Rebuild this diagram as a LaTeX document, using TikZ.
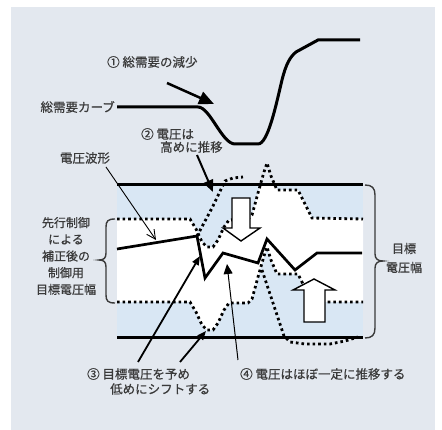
\documentclass[tikz,border=0pt]{standalone}
\usepackage{fontspec}
\setmainfont{Noto Sans CJK JP}[FakeBold=0.6]
\usetikzlibrary{arrows.meta}
\definecolor{bg}{HTML}{E3E8EF}
\definecolor{lblue}{HTML}{D9E7F4}
\definecolor{txt}{HTML}{3A3A3A}
\begin{document}
\begin{tikzpicture}[x=1pt,y=-1pt,
  lbl/.style={font=\fontsize{12.5}{14}\selectfont, text=txt, inner sep=0pt},
  dotline/.style={line width=2.8pt, dash pattern=on 2.6pt off 3.0pt, line cap=butt},
  bandline/.style={line width=3pt},
  bigarrow/.style={fill=white, draw=black, line width=1.4pt, line join=miter},
  bracestyle/.style={line width=1.4pt, draw=txt},
  leader/.style={line width=1.8pt, -{Triangle[length=9pt,width=7pt]}}]
\useasboundingbox (0,0) rectangle (442,430);
\fill[white] (0,0) rectangle (442,430);
\fill[bg] (11,7) rectangle (435,430);

% band background
\fill[lblue] (117,185) rectangle (363,338);
\begin{scope}
\clip (117,185) rectangle (363,338);
\fill[white] (117,219) -- (190,219) -- (196,229) -- (202,242) -- (207,247) -- (213,247) -- (218,240) -- (224,227) -- (229,220) -- (248,219) -- (252,215) -- (258,193) -- (264,172) -- (267,163) -- (271,176) -- (277,190) -- (298,190) -- (312,218) -- (363,219)
  -- (363,302) -- (312,302) -- (298,274) -- (277,274) -- (271,260) -- (267,247) -- (264,256) -- (258,277) -- (252,299) -- (248,303) -- (229,303) -- (224,310) -- (218,323) -- (213,330) -- (207,330) -- (202,325) -- (196,312) -- (190,302) -- (117,302) -- cycle;
\end{scope}

% dotted curves
\draw[dotline] (117,219) -- (190,219) -- (196,229) -- (202,242) -- (207,247) -- (213,247) -- (218,240) -- (224,227) -- (229,220) -- (248,219) -- (252,215) -- (258,193) -- (264,172) -- (267,163) -- (271,176) -- (277,190) -- (298,190) -- (312,218) -- (363,219);
\draw[dotline] (117,302) -- (190,302) -- (196,312) -- (202,325) -- (207,330) -- (213,330) -- (218,323) -- (224,310) -- (229,303) -- (248,303) -- (252,299) -- (258,277) -- (264,256) -- (267,247) -- (271,260) -- (277,274) -- (298,274) -- (312,302) -- (363,302);
\draw[dotline] (197,236) -- (212,208) -- (225,181) -- (233,178) -- (243,177);
\draw[dotline] (262,270) -- (284,336) -- (290,342) -- (305,344) -- (330,344) -- (345,341) -- (358,337);

% band lines
\draw[bandline] (117,185) -- (363,185);
\draw[bandline] (117,338) -- (363,338);

% voltage waveform
\draw[line width=2.7pt, line join=miter] (117,249) -- (197,236) -- (205,278) -- (223,253) -- (258,263) -- (267,239) -- (295,270) -- (317,253) -- (362,253);

% big hollow arrows
\draw[bigarrow] (232,198) -- (250,198) -- (250,228) -- (260,228) -- (241,241) -- (223,228) -- (232,228) -- cycle;
\draw[bigarrow] (304,322) -- (325,322) -- (325,290) -- (335,290) -- (314,279) -- (293,290) -- (304,290) -- cycle;

% demand curve
\draw[line width=3pt] (117,107) -- (198,107) .. controls (210,107) and (222,144) .. (235,144) -- (258,144) .. controls (268,144) and (276,105) .. (282,80) .. controls (286,64) and (290,57) .. (296,52) -- (318,40) -- (360,40);

% texts
\node[lbl, anchor=west] (t1) at (107,62) {① 総需要の減少};
\node[lbl, anchor=east] (tc) at (115,107) {総需要カーブ};
\node[lbl, anchor=west] (t2a) at (141,134) {② 電圧は};
\node[lbl, anchor=west] (t2b) at (160,147) {高めに推移};
\node[lbl] (tw) at (85,158) {電圧波形};
\node[lbl, align=center, font=\fontsize{12}{16.7}\selectfont] (tl) at (66,256) {先行制御\\による\\補正後の\\制御用\\目標電圧幅};
\node[lbl, align=center, font=\fontsize{12}{19}\selectfont] (tr) at (404,258) {目標\\電圧幅};
\node[lbl, anchor=west] (t3a) at (87,374) {③ 目標電圧を予め};
\node[lbl, anchor=west] (t3b) at (110,389) {低めにシフトする};
\node[lbl, anchor=west] (t4) at (240,374) {④ 電圧はほぼ一定に推移する};

% leader arrows
\coordinate (a1s) at (167,83); \coordinate (a1e) at (214,104);
\draw[line width=2.5pt, -{Triangle[length=15pt,width=13pt]}] (a1s) -- (a1e);
\coordinate (a2s) at (197,155); \coordinate (a2e) at (213,192);
\draw[line width=2pt, -{Triangle[length=12pt,width=10pt]}] (a2s) -- (a2e);
\coordinate (aws) at (106,167); \coordinate (awe) at (156,240);
\draw[line width=0.9pt, -{Straight Barb[length=9pt,width=9pt]}] (aws) -- (awe);
\coordinate (a3s) at (138,362); \coordinate (a3e) at (200,256);
\draw[leader] (a3s) -- (a3e);
\coordinate (a3bs) at (180,362); \coordinate (a3be) at (206,331);
\draw[leader] (a3bs) -- (a3be);
\coordinate (a4s) at (238,360); \coordinate (a4e) at (227,264);
\draw[line width=1pt, -{Triangle[length=10pt,width=9pt]}] (a4s) -- (a4e);

% braces
\draw[bracestyle] (115,219) .. controls (108,219) and (106,221) .. (106,227) -- (106,253) .. controls (106,258) and (104,260) .. (99,260) .. controls (104,260) and (106,262) .. (106,267) -- (106,295) .. controls (106,301) and (108,303) .. (115,303);
\draw[bracestyle] (365,185) .. controls (372,185) and (375,188) .. (375,195) -- (375,254) .. controls (375,259) and (378,261) .. (383,261) .. controls (378,261) and (375,263) .. (375,268) -- (375,328) .. controls (375,335) and (372,338) .. (365,338);
\end{tikzpicture}
\end{document}
